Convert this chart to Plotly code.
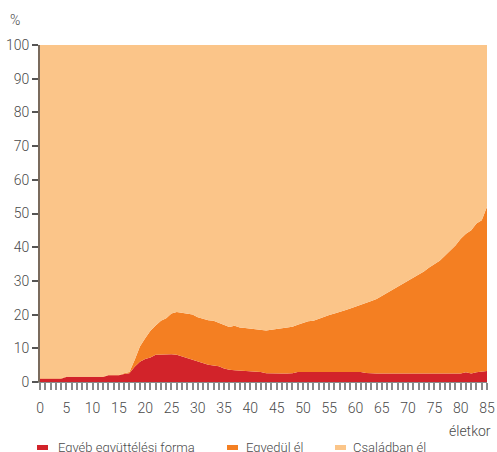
import plotly.graph_objects as go

ages = list(range(0, 86))

egyeb = [1.0, 1.0, 1.0, 1.0, 1.0,
         1.5, 1.5, 1.5, 1.5, 1.5, 1.5, 1.5, 1.5,
         2.0, 2.0, 2.0, 2.4, 2.6,
         4.5, 6.0, 6.8, 7.3, 8.1, 8.2, 8.2, 8.2, 8.1, 7.6, 7.0, 6.5,
         6.0, 5.5, 5.1, 4.9, 4.7, 4.0, 3.6, 3.5, 3.4, 3.2,
         3.0, 3.0, 3.0, 2.6, 2.5, 2.5, 2.5, 2.5, 2.6, 3.0,
         3.0, 3.0, 3.0, 3.0, 3.0, 3.0, 3.0, 3.0, 3.0, 3.0,
         3.0, 3.0, 2.7, 2.5, 2.5, 2.5, 2.5, 2.5, 2.5, 2.5,
         2.5, 2.5, 2.5, 2.5, 2.5, 2.5, 2.5, 2.5, 2.5, 2.5,
         2.5, 2.9, 2.5, 2.9, 3.0, 3.3]

egyedul = [0.1, 0.1, 0.1, 0.1, 0.1, 0.1, 0.1, 0.1, 0.1, 0.1,
           0.1, 0.1, 0.1, 0.1, 0.1, 0.1, 0.2, 0.4,
           2.0, 4.5, 6.2, 7.9, 8.7, 10.0, 10.7, 12.1, 12.7, 12.9, 13.4, 13.5,
           13.2, 13.2, 13.2, 13.3, 12.9, 13.0, 12.7, 13.2, 12.8, 12.8,
           12.8, 12.5, 12.3, 12.7, 13.0, 13.2, 13.3, 13.5, 13.8, 14.0,
           14.6, 15.0, 15.2, 15.8, 16.2, 16.9, 17.3, 17.7, 18.3, 18.8,
           19.3, 19.9, 20.8, 21.5, 22.1, 23.0, 23.8, 24.7, 25.8, 26.5,
           27.5, 28.3, 29.3, 30.3, 31.5, 32.5, 33.5, 35.0, 36.5, 38.0,
           40.0, 41.1, 42.5, 44.1, 45.0, 48.7]

csaladban = [round(100 - a - b, 2) for a, b in zip(egyeb, egyedul)]

names = ["Egyéb együttélési forma", "Egyedül él", "Családban él"]
colors = ["#D2232A", "#F47F22", "#FBC589"]
series = [egyeb, egyedul, csaladban]

fig = go.Figure()
for name, vals, col in zip(names, series, colors):
    fig.add_trace(go.Scatter(
        x=ages, y=vals, name=name, mode="lines",
        stackgroup="one", line=dict(width=0, color=col),
        fillcolor=col, showlegend=False))

font = dict(family="Roboto", size=14, color="#4a4a4a", weight=300)
legfont = dict(family="Roboto", size=13, color="#4a4a4a", weight=300)

fig.update_layout(
    width=497, height=452,
    margin=dict(l=40, r=10, t=45, b=70),
    paper_bgcolor="white", plot_bgcolor="white",
    font=font,
    xaxis=dict(range=[0, 85], dtick=5, tick0=0, ticks="outside", ticklen=7,
               tickcolor="#8a8a8a", tickwidth=1.5, showgrid=False, zeroline=False,
               showline=True, linecolor="#8a8a8a", linewidth=1, automargin=False,
               ticklabelstandoff=6,
               minor=dict(dtick=1, ticks="outside", ticklen=7, tickcolor="#8a8a8a",
                          tickwidth=1.5, showgrid=False),
               tickfont=font),
    yaxis=dict(range=[0, 100], dtick=10, ticks="outside", ticklen=6,
               tickcolor="#555", tickwidth=1.5, showgrid=False, zeroline=False,
               showline=True, linecolor="#7a6b5d", linewidth=2, automargin=False,
               tickfont=font),
)

fig.add_annotation(text="%", xref="paper", yref="paper", x=-0.055, y=1.045,
                   xanchor="center", yanchor="bottom", showarrow=False, font=font)
fig.add_annotation(text="életkor", xref="paper", yref="paper", x=1.014, y=-0.115,
                   xanchor="right", yanchor="top", showarrow=False, font=font)

# legend
leg_x = [37, 227, 335]
leg_text_x = [56, 244, 351]
for lx, tx, name, col in zip(leg_x, leg_text_x, names, colors):
    fig.add_shape(type="rect", xref="paper", yref="paper",
                  x0=(lx - 40) / 447, x1=(lx - 40 + 11) / 447,
                  y0=-(447 - 382 + 3) / 337, y1=-(447 - 382 - 2) / 337,
                  fillcolor=col, line=dict(width=0))
    fig.add_annotation(text=name, xref="paper", yref="paper",
                       x=(tx - 40) / 447, y=-(447 - 382) / 337,
                       xanchor="left", yanchor="middle", showarrow=False, font=legfont)

fig.write_html("out.html", config={"displayModeBar": False},
               post_script="document.body.style.margin='0';document.body.style.overflow='hidden';")
